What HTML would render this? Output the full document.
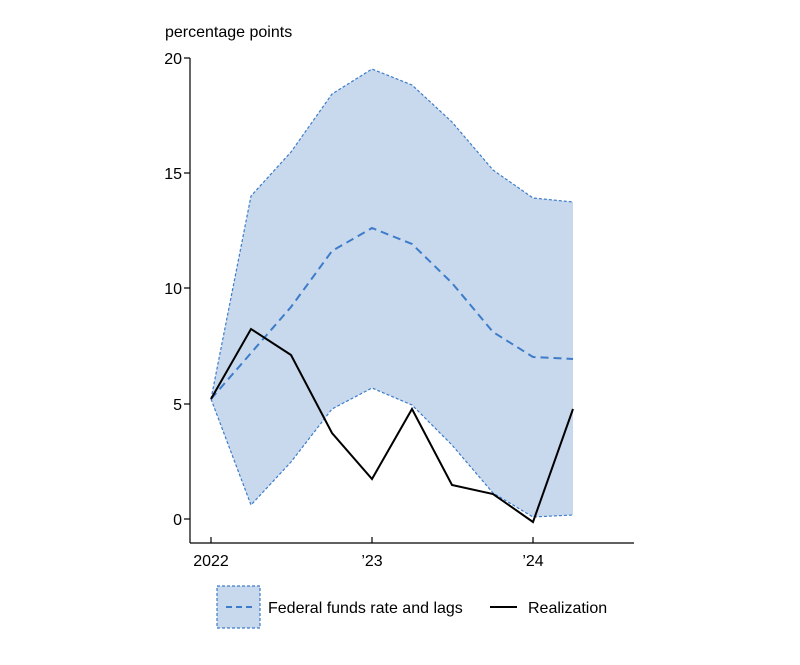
<!DOCTYPE html>
<html><head><meta charset="utf-8"><style>
body{margin:0;background:#fff}
svg text{font-family:"Liberation Sans",Arial,sans-serif;font-size:16px;fill:#000}
</style></head><body>
<svg width="800" height="660" viewBox="0 0 800 660" xmlns="http://www.w3.org/2000/svg">
<text x="165" y="37">percentage points</text>
<polygon points="211,399 251,196 291,152 332,94 372,69 412,85 452,122 493,170 533,198 573,202 573,515 533,517 493,493 452,445 412,405 372,388 332,409 291,462 251,505" fill="#c8d8ed"/>
<polyline points="211,399 251,196 291,152 332,94 372,69 412,85 452,122 493,170 533,198 573,202" fill="none" stroke="#3d7cc9" stroke-width="1.2" stroke-dasharray="3,2"/>
<polyline points="211,399 251,505 291,462 332,409 372,388 412,405 452,445 493,493 533,517 573,515" fill="none" stroke="#3d7cc9" stroke-width="1.2" stroke-dasharray="3,2"/>
<polyline points="211,399 251,353 291,307 332,251 372,228 412,244 452,283 493,332 533,357 573,359" fill="none" stroke="#3d7cc9" stroke-width="2" stroke-dasharray="8,5"/>
<polyline points="211,399 251,329 291,355 332,433 372,479 412,409 452,485 493,494 533,522 573,409" fill="none" stroke="#000" stroke-width="2"/>
<g stroke="#000" stroke-width="1.2">
<line x1="190" y1="58" x2="190" y2="543"/>
<line x1="190" y1="543" x2="634" y2="543"/>
<line x1="184" y1="58" x2="190" y2="58"/>
<line x1="184" y1="173" x2="190" y2="173"/>
<line x1="184" y1="288" x2="190" y2="288"/>
<line x1="184" y1="404" x2="190" y2="404"/>
<line x1="184" y1="519" x2="190" y2="519"/>
<line x1="211" y1="537" x2="211" y2="543"/>
<line x1="372" y1="537" x2="372" y2="543"/>
<line x1="533" y1="537" x2="533" y2="543"/>
</g>
<g text-anchor="end">
<text x="182" y="64">20</text>
<text x="182" y="179">15</text>
<text x="182" y="294">10</text>
<text x="182" y="410">5</text>
<text x="182" y="525">0</text>
</g>
<g text-anchor="middle">
<text x="211" y="566">2022</text>
<text x="372" y="566">’23</text>
<text x="533" y="566">’24</text>
</g>
<rect x="217" y="586" width="43" height="42" fill="#c8d8ed" stroke="#3d7cc9" stroke-width="1.2" stroke-dasharray="3,2"/>
<line x1="226" y1="607" x2="252" y2="607" stroke="#3d7cc9" stroke-width="2" stroke-dasharray="6,4"/>
<text x="268" y="613">Federal funds rate and lags</text>
<line x1="490" y1="607" x2="517" y2="607" stroke="#000" stroke-width="2"/>
<text x="528" y="613">Realization</text>
</svg>
</body></html>
